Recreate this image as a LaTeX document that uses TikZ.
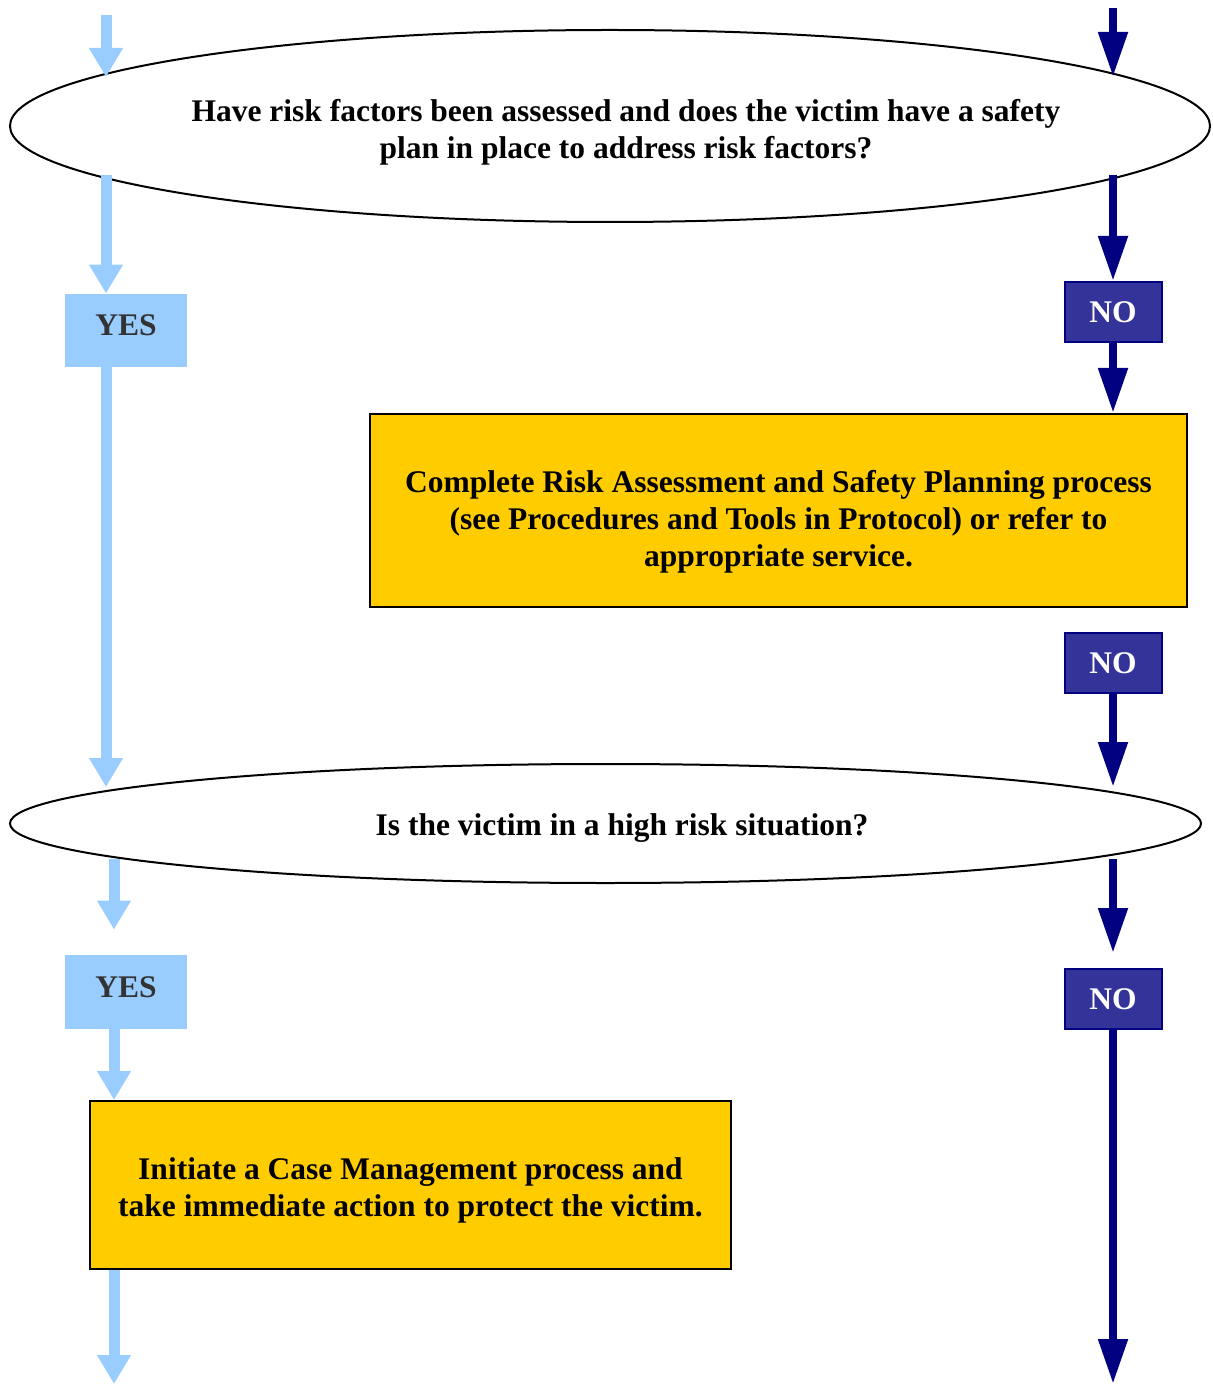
\documentclass[tikz,border=0pt]{standalone}
\usepackage{fontspec}
\setmainfont{Liberation Serif}
\usetikzlibrary{arrows.meta,shapes.geometric}
\definecolor{celeste}{HTML}{99CCFF}
\definecolor{marino}{HTML}{000080}
\definecolor{indigo}{HTML}{333399}
\definecolor{ambar}{HTML}{FFCC00}
\definecolor{grisosc}{HTML}{333333}

\begin{document}
\begin{tikzpicture}[
  x=0.5pt, y=-0.5pt,
  decision/.style={draw, ellipse, line width=1pt, inner sep=0pt, outer sep=0pt},
  qtext/.style={align=center, font=\fontsize{15.75}{18.5}\selectfont\bfseries},
  task/.style={draw, fill=ambar, line width=1pt, inner sep=0pt, align=center, font=\fontsize{15.75}{18.5}\selectfont\bfseries},
  yesbox/.style={fill=celeste, text=grisosc, minimum width=61pt, minimum height=36.5pt, inner sep=0pt, text depth=5pt, font=\fontsize{15.75}{18}\selectfont\bfseries},
  nobox/.style={draw=marino, fill=indigo, text=white, line width=1pt, minimum width=48.5pt, minimum height=30pt, inner sep=0pt, font=\fontsize{15.75}{18}\selectfont\bfseries},
  yesarr/.style={draw=celeste, line width=5.5pt, -{Triangle[length=14.5pt, width=16pt, fill=celeste]}},
  noarr/.style={draw=marino, line width=4pt, -{Triangle[length=22.5pt, width=14pt, fill=marino]}}
]
\useasboundingbox (0,0) rectangle (1212,1384);

\node[decision, minimum width=600pt, minimum height=96pt]     (q1)    at (610,126)    {};
\node[qtext]                                                    (q1txt) at (626,132)    {Have risk factors been assessed and does the victim have a safety\\plan in place to address risk factors?};
\node[yesbox]                                                   (yes1)  at (126,330.5)  {YES};
\node[nobox]                                                    (no1)   at (1113,312)   {NO};
\node[task, minimum width=408.5pt, minimum height=96.5pt, text height=59pt] (plan) at (778.5,510.5) {Complete Risk Assessment and Safety Planning process\\(see Procedures and Tools in Protocol) or refer to\\appropriate service.};
\node[nobox]                                                    (no2)   at (1113,663)   {NO};
\node[decision, minimum width=595.5pt, minimum height=59.5pt]   (q2)    at (605.5,823.5) {};
\node[qtext]                                                    (q2txt) at (622,828)    {Is the victim in a high risk situation?};
\node[yesbox, minimum height=37pt]                              (yes2)  at (126,992)    {YES};
\node[nobox]                                                    (no3)   at (1113,999)   {NO};
\node[task, minimum width=320.5pt, minimum height=84pt, text height=34.5pt] (act) at (410.5,1185) {Initiate a Case Management process and\\take immediate action to protect the victim.};

\coordinate (topL) at (106,15);
\coordinate (topR) at (1113,8);
\coordinate (botL) at (114,1384);
\coordinate (botR) at (1113,1384);
\coordinate (q1-nw) at (106,77);
\coordinate (q1-ne) at (1113,77);
\coordinate (q1-sw) at (106,175);
\coordinate (q1-se) at (1113,175);
\coordinate (q2-nw) at (106,787);
\coordinate (q2-ne) at (1113,787);
\coordinate (q2-sw) at (114,859);
\coordinate (q2-se) at (1113,859);

% first question
\draw[yesarr] (topL) -- (q1-nw);
\draw[noarr]  (topR) -- (q1-ne);
\draw[yesarr] (q1-sw) -- (q1-sw |- yes1.north);
\draw[noarr]  (q1-se) -- (q1-se |- no1.north);
\draw[noarr]  (no1.south) -- (no1.south |- plan.north);
\draw[noarr]  (no2.south) -- (q2-ne);
\draw[yesarr] (yes1.south -| q2-nw) -- (q2-nw);

% second question
\draw[yesarr, shorten >=12.5pt] (q2-sw) -- (q2-sw |- yes2.north);
\draw[noarr, shorten >=7.5pt]   (q2-se) -- (q2-se |- no3.north);
\draw[yesarr] (yes2.south -| botL) -- (botL |- act.north);
\draw[yesarr] (act.south -| botL) -- (botL);
\draw[noarr]  (no3.south) -- (botR);
\end{tikzpicture}
\end{document}
